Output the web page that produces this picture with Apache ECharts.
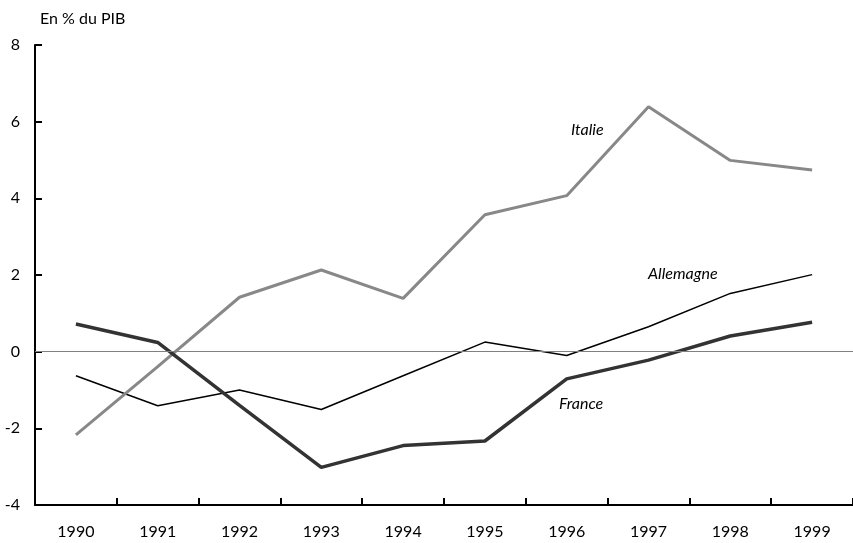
<!DOCTYPE html>
<html>
<head>
<meta charset="utf-8">
<script src="https://cdn.jsdelivr.net/npm/echarts@6/dist/echarts.min.js"></script>
<style>
html,body{margin:0;padding:0;background:#fff;}
#chart{width:853px;height:543px;}
</style>
</head>
<body>
<div id="chart"></div>
<script>
var years = ['1990','1991','1992','1993','1994','1995','1996','1997','1998','1999'];
var italie = [-2.17, -0.39, 1.42, 2.13, 1.39, 3.57, 4.07, 6.39, 4.99, 4.74];
var allemagne = [-0.63, -1.41, -1.0, -1.51, -0.63, 0.25, -0.1, 0.65, 1.52, 2.01];
var france = [0.72, 0.24, -1.4, -3.02, -2.45, -2.33, -0.71, -0.22, 0.41, 0.77];

var font = 'Lato, "Open Sans", sans-serif';
var myChart = echarts.init(document.getElementById('chart'));

myChart.setOption({
    animation: false,
    grid: {left: 35, right: -5, top: 45, bottom: 38},
    xAxis: {
        type: 'category',
        data: years,
        boundaryGap: true,
        axisLine: {show: true, onZero: false, lineStyle: {color: '#000', width: 2}},
        axisTick: {show: true, inside: true, length: 7, alignWithLabel: false, lineStyle: {color: '#000', width: 2}},
        axisLabel: {color: '#000', fontSize: 16, fontFamily: font, margin: 19}
    },
    yAxis: {
        type: 'value',
        min: -4,
        max: 8,
        interval: 2,
        axisLine: {show: true, lineStyle: {color: '#000', width: 2}},
        axisTick: {show: true, inside: true, length: 7, lineStyle: {color: '#000', width: 2}},
        axisLabel: {color: '#000', fontSize: 16, fontFamily: font, margin: 15},
        splitLine: {show: false}
    },
    series: [{
        name: 'Allemagne',
        type: 'line',
        data: allemagne,
        symbol: 'none',
        lineStyle: {color: '#000', width: 1.5},
        markLine: {
            silent: true,
            symbol: 'none',
            label: {show: false},
            lineStyle: {color: '#808080', width: 1.2, type: 'solid'},
            data: [{yAxis: 0}]
        }
    }, {
        name: 'Italie',
        type: 'line',
        data: italie,
        symbol: 'none',
        lineStyle: {color: '#888', width: 3}
    }, {
        name: 'France',
        type: 'line',
        data: france,
        symbol: 'none',
        lineStyle: {color: '#333', width: 3.5}
    }],
    graphic: [
        {type: 'text', left: 40, top: 11, style: {text: 'En % du PIB', font: '16px ' + font, fill: '#000'}},
        {type: 'text', left: 571, top: 122, style: {text: 'Italie', font: 'italic 16px ' + font, fill: '#000'}},
        {type: 'text', left: 648, top: 266, style: {text: 'Allemagne', font: 'italic 16px ' + font, fill: '#000'}},
        {type: 'text', left: 559, top: 396, style: {text: 'France', font: 'italic 16px ' + font, fill: '#000'}}
    ]
});
</script>
</body>
</html>
